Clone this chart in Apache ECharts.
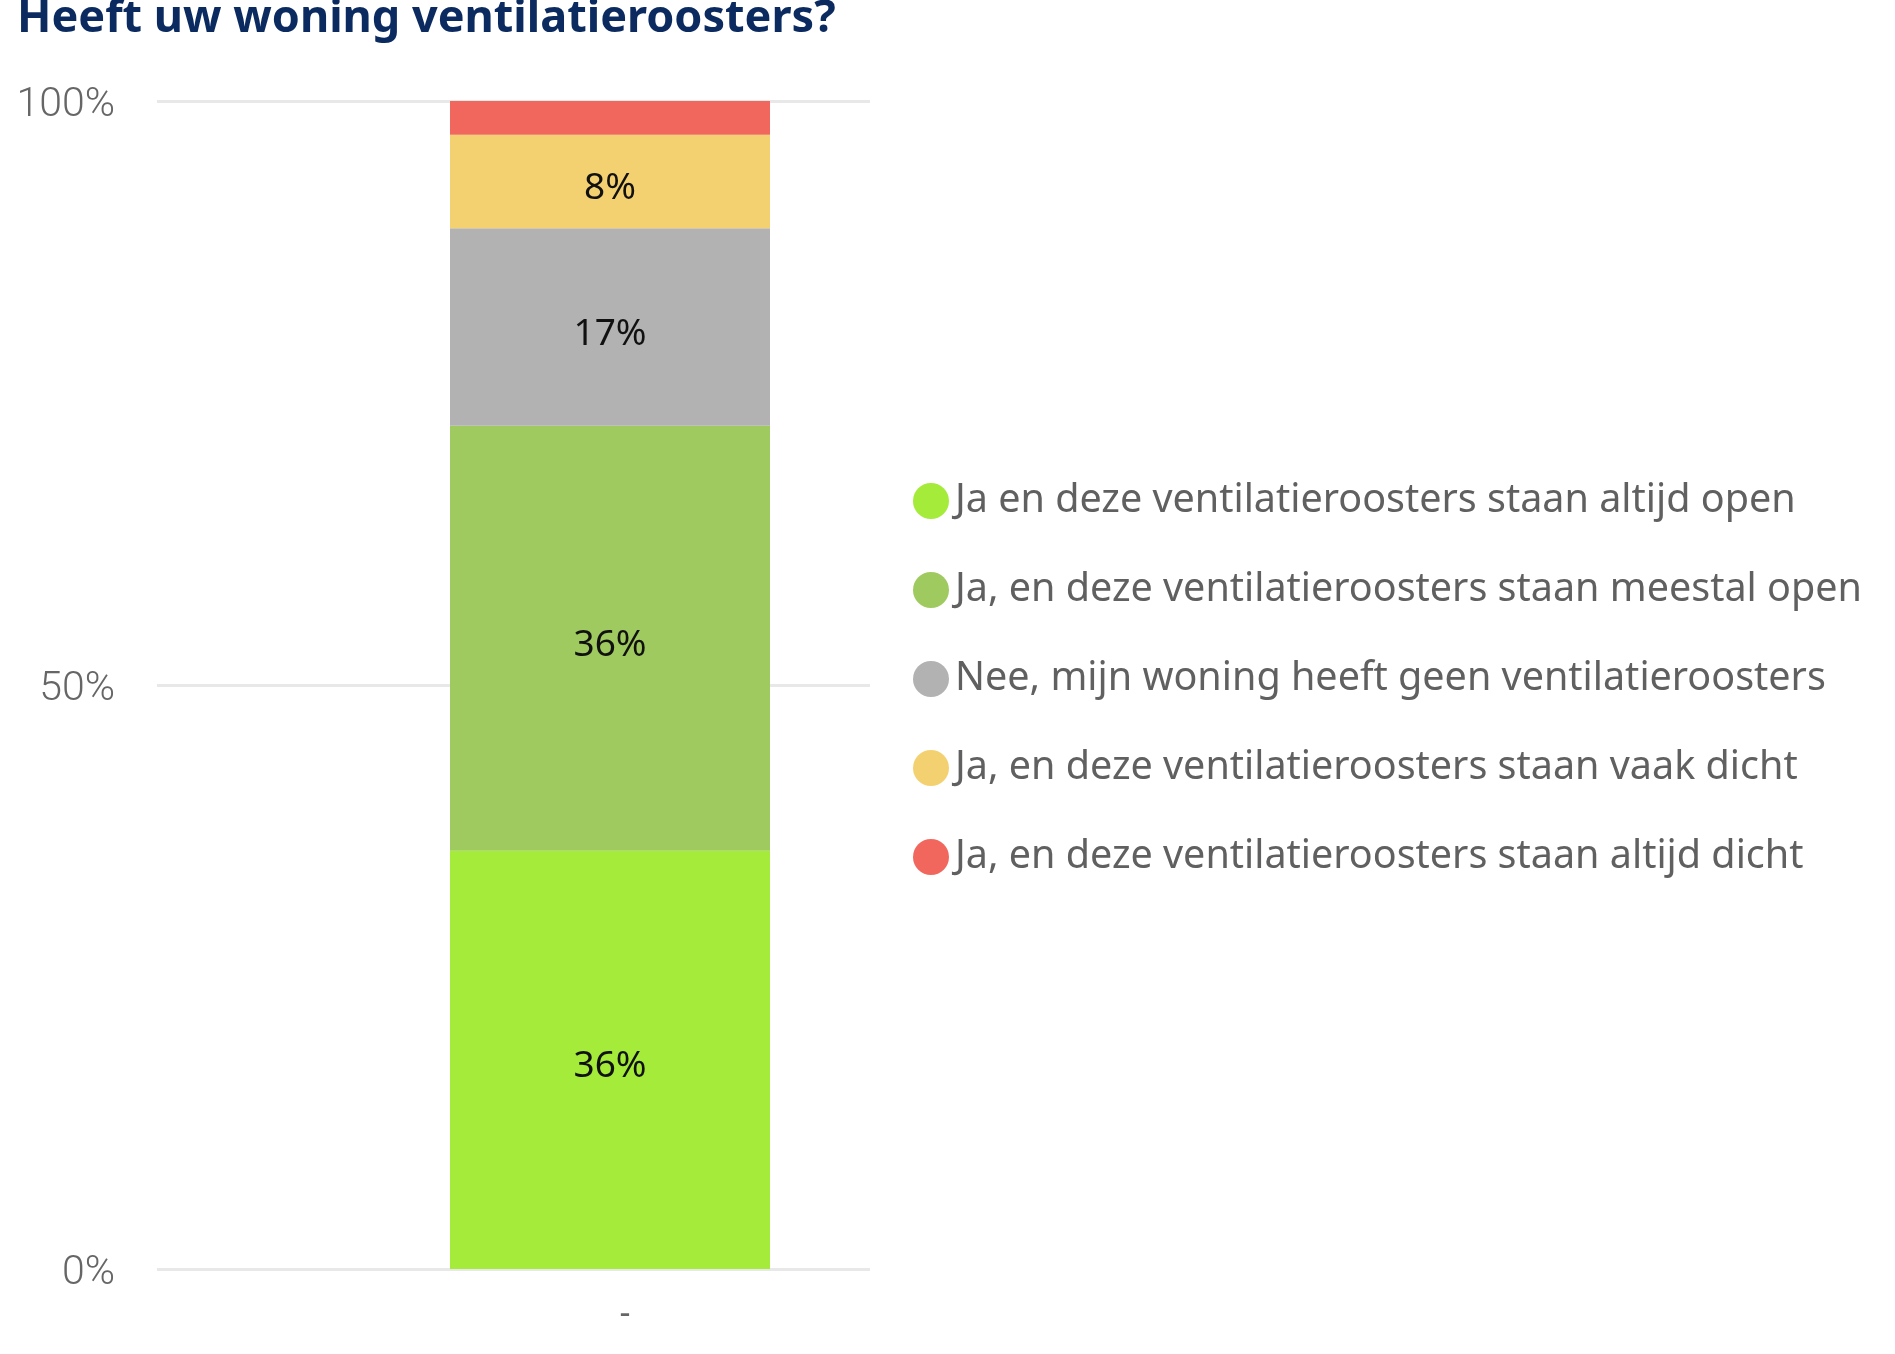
<!DOCTYPE html>
<html><head><meta charset="utf-8">
<script src="https://cdn.jsdelivr.net/npm/echarts@6/dist/echarts.min.js"></script>
<style>html,body{margin:0;padding:0;background:#fff}#c{width:1895px;height:1354px}</style>
</head><body><div id="c"></div>
<script>
const categories = ['-'];
const seriesNames = [
  'Ja en deze ventilatieroosters staan altijd open',
  'Ja, en deze ventilatieroosters staan meestal open',
  'Nee, mijn woning heeft geen ventilatieroosters',
  'Ja, en deze ventilatieroosters staan vaak dicht',
  'Ja, en deze ventilatieroosters staan altijd dicht'
];
const altijdOpen = [35.8];
const meestalOpen = [36.4];
const geenRoosters = [16.9];
const vaakDicht = [8.0];
const altijdDicht = [2.9];
const yTickLabels = ['0%', '50%', '100%'];
const colors = ['#a4eb3a', '#9fca5f', '#b2b2b2', '#f4d170', '#f2675d'];

const values = [altijdOpen, meestalOpen, geenRoosters, vaakDicht, altijdDicht];
const chart = echarts.init(document.getElementById('c'), null, {renderer: 'canvas'});

const series = values.map((arr, i) => ({
  name: seriesNames[i],
  type: 'bar',
  stack: 'total',
  xAxisIndex: 1,
  yAxisIndex: 1,
  barWidth: '100%',
  data: arr,
  itemStyle: {color: colors[i]},
  label: {
    show: arr[0] >= 5,
    position: 'inside',
    offset: [0, 7],
    formatter: p => Math.round(p.value) + '%',
    color: '#111',
    fontSize: 37,
    fontFamily: 'Noto Sans'
  }
}));

chart.setOption({
  animation: false,
  backgroundColor: '#fff',
  color: colors,
  title: {
    text: 'Heeft uw woning ventilatieroosters?',
    left: 12,
    top: -8,
    textStyle: {color: '#0b2a5f', fontSize: 45, fontWeight: 'bold', fontFamily: 'Noto Sans'}
  },
  legend: {
    orient: 'vertical',
    left: 908,
    top: 476,
    icon: 'circle',
    itemWidth: 36,
    itemHeight: 36,
    itemGap: 49,
    data: seriesNames,
    textStyle: {color: '#606060', fontSize: 39.5, fontFamily: 'Noto Sans', lineHeight: 40, padding: [0,0,0,1]}
  },
  grid: [
    {left: 157, width: 713, top: 101, bottom: 85},
    {left: 450, width: 320, top: 101, bottom: 85}
  ],
  xAxis: [
    {type: 'category', gridIndex: 0, data: [''], show: false},
    {type: 'category', gridIndex: 1, data: categories,
     axisLine: {show: false}, axisTick: {show: false},
     axisLabel: {margin: 28, color: '#666', fontSize: 34, fontFamily: 'Noto Sans', padding: [0,0,0,30]}}
  ],
  yAxis: [
    {type: 'value', gridIndex: 0, min: 0, max: 100, interval: 50,
     axisLine: {show: false}, axisTick: {show: false},
     axisLabel: {margin: 42, color: '#666', fontSize: 41, fontFamily: 'Roboto', fontWeight: 300,
                 formatter: v => '{t|' + yTickLabels[v / 50] + '}',
                 rich: {t: {color: '#666', fontSize: 41, fontFamily: 'Roboto', fontWeight: 300, padding: [9,0,0,0]}}},
     splitLine: {lineStyle: {color: '#e8e8e8', width: 3}}},
    {type: 'value', gridIndex: 1, min: 0, max: 100, interval: 50, show: false, splitLine: {show: false}}
  ],
  series: series
});
</script></body></html>
